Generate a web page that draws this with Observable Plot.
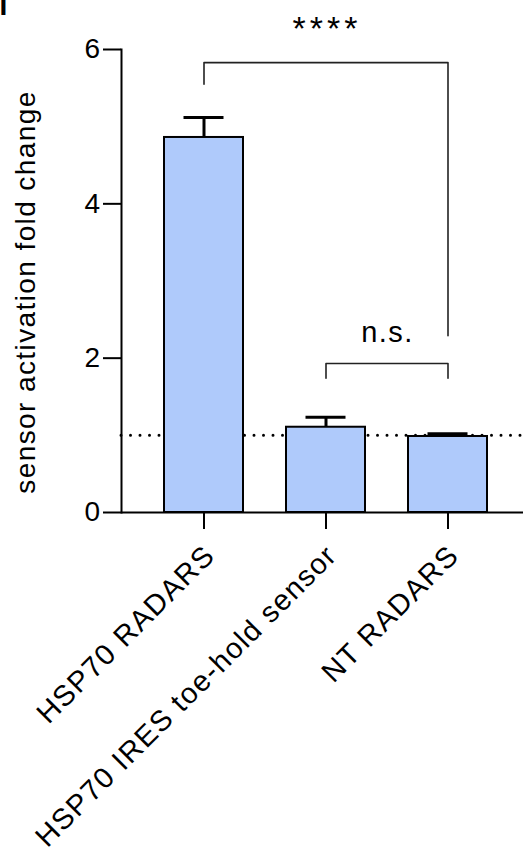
<!DOCTYPE html>
<html><head><meta charset="utf-8">
<script src="https://cdn.jsdelivr.net/npm/d3@7"></script>
<script src="https://cdn.jsdelivr.net/npm/@observablehq/plot@0.6"></script>
<style>
body{margin:0;background:#fff}
svg{display:block}
g[aria-label="text"] text{letter-spacing:1.4px}
g[aria-label="y-axis tick label"] text{letter-spacing:0.5px}
</style>
</head><body><div id="chart"></div>
<script>
const categories = ["HSP70 RADARS", "HSP70 IRES toe-hold sensor", "NT RADARS"];
const means = [4.86, 1.105, 0.985];
const errors = [0.26, 0.13, 0.035];
const yTicks = [0, 2, 4, 6];
const baseline = [1];
const yLabel = "sensor activation fold change";
const panelLetter = "I";
// significance brackets
const sigLabels = ["****", "n.s."];
const sigFrom = [0, 1];
const sigTo = [2, 2];
const sigTops = [5.83, 1.93];
const sigLeftEnds = [5.55, 1.74];
const sigRightEnds = [2.29, 1.74];
const sigLabelY = [6.12, 2.21];
const sigFontSize = [34, 29];

const data = categories.map((c, i) => ({cat: c, mean: means[i], err: errors[i]}));
const xRange = [120, 532];
const xs = d3.scaleBand(categories, xRange).padding(0.35);

const bracketPts = [];
sigLabels.forEach((_, i) => {
  const a = categories[sigFrom[i]], b = categories[sigTo[i]];
  bracketPts.push({g: i, x: a, y: sigLeftEnds[i]});
  bracketPts.push({g: i, x: a, y: sigTops[i]});
  bracketPts.push({g: i, x: b, y: sigTops[i]});
  bracketPts.push({g: i, x: b, y: sigRightEnds[i]});
});

const sigTextMarks = sigLabels.map((lab, i) => {
  const a = categories[sigFrom[i]], b = categories[sigTo[i]];
  const dx = (xs(b) - xs(a)) / 2;
  return Plot.text([lab], {x: () => a, y: () => sigLabelY[i], text: d => d, dx,
    lineAnchor: "bottom", textAnchor: "middle", fontSize: sigFontSize[i], fill: "black"});
});

const chart = Plot.plot({
  width: 523, height: 848,
  marginLeft: 121, marginRight: 0, marginTop: 49, marginBottom: 336,
  style: {fontFamily: "'Liberation Sans', Arial, Helvetica, sans-serif", background: "white", color: "black"},
  x: {domain: categories, range: xRange, padding: 0.35},
  y: {domain: [0, 6]},
  marks: [
    Plot.ruleY(baseline, {stroke: "black", strokeWidth: 3, strokeDasharray: "0,9.5", strokeLinecap: "round"}),
    Plot.barY(data, {x: "cat", y: "mean", fill: "#afcafb", stroke: "black", strokeWidth: 2}),
    Plot.ruleX(data, {x: "cat", y1: "mean", y2: d => d.mean + d.err, stroke: "black", strokeWidth: 3}),
    Plot.tickY(data, {x: "cat", y: d => d.mean + d.err, stroke: "black", strokeWidth: 3, insetLeft: 19.5, insetRight: 19.5}),
    Plot.frame({anchor: "left", stroke: "black", strokeWidth: 2}),
    Plot.ruleY([0], {stroke: "black", strokeWidth: 2}),
    Plot.axisY({ticks: yTicks, tickSize: 18, tickPadding: 3, fontSize: 28, tickFormat: d => d, label: null, stroke: "black", strokeWidth: 2}),
    Plot.axisX({tickSize: 17, tickFormat: () => "", label: null, stroke: "black", strokeWidth: 2}),
    Plot.line(bracketPts, {x: "x", y: "y", z: "g", stroke: "#222", strokeWidth: 1.6}),
    ...sigTextMarks,
    Plot.text(categories, {x: d => d, frameAnchor: "bottom", text: d => d, rotate: -45, textAnchor: "end",
      lineAnchor: "middle", fontSize: 29, dx: 6, dy: 38, fill: "black"}),
    Plot.text([yLabel], {frameAnchor: "left", text: d => d, rotate: -90, textAnchor: "middle", lineAnchor: "middle",
      fontSize: 28, dx: -95, dy: 11, fill: "black"}),
    Plot.text([panelLetter], {frameAnchor: "top-left", text: d => d, textAnchor: "start", lineAnchor: "top",
      fontSize: 28, fontWeight: "bold", dx: -122, dy: -54, fill: "black"})
  ]
});
d3.select(chart).selectAll("text").filter(function() { return this.textContent === sigLabels[0]; })
  .style("letter-spacing", "4px");
document.getElementById("chart").appendChild(chart);
</script>
</body></html>
